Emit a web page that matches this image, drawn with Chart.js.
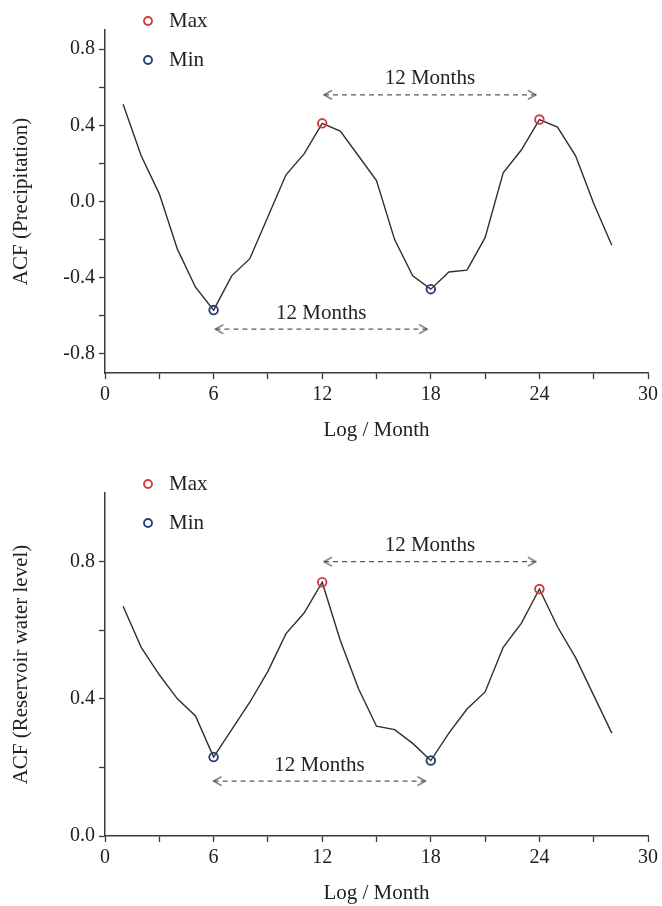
<!DOCTYPE html>
<html>
<head>
<meta charset="utf-8">
<title>ACF – precipitation and reservoir water level</title>
<script src="https://cdn.jsdelivr.net/npm/chart.js@4.4.1/dist/chart.umd.min.js"></script>
<style>
  body { margin: 0; background: #fff; }
  .panel { position: relative; width: 662px; }
</style>
</head>
<body>
<div class="panel" style="height:463px"><canvas id="acfPrecip"></canvas></div>
<div class="panel" style="height:443px"><canvas id="acfLevel"></canvas></div>
<script>
// lag in months
const lags = [1, 2, 3, 4, 5, 6, 7, 8, 9, 10, 11, 12, 13, 14,
  15, 16, 17, 18, 19, 20, 21, 22, 23, 24, 25, 26, 27, 28];
const acfPrecip = [0.51, 0.24, 0.04, -0.25, -0.45, -0.57, -0.39, -0.30, -0.08, 0.14, 0.25, 0.41, 0.37, 0.24,
  0.11, -0.20, -0.39, -0.46, -0.37, -0.36, -0.19, 0.15, 0.27, 0.43, 0.39, 0.24, -0.01, -0.23];
const acfLevel = [0.67, 0.55, 0.47, 0.40, 0.35, 0.23, 0.31, 0.39, 0.48, 0.59, 0.65, 0.74, 0.57, 0.43,
  0.32, 0.31, 0.27, 0.22, 0.30, 0.37, 0.42, 0.55, 0.62, 0.72, 0.61, 0.52, 0.41, 0.30];

const xTicks = [0, 3, 6, 9, 12, 15, 18, 21, 24, 27, 30];
const yTicksPrecip = [-0.8, -0.6, -0.4, -0.2, 0, 0.2, 0.4, 0.6, 0.8];
const yTicksLevel = [0, 0.2, 0.4, 0.6, 0.8];

const maxLagsPrecip = [12, 24];
const minLagsPrecip = [6, 18];
const maxLagsLevel = [12, 24];
const minLagsLevel = [6, 18];

// dashed period arrows: [from lag, to lag, acf height]
const spansPrecip = [[12.1, 23.8, 0.56], [6.1, 17.8, -0.67]];
const spansLevel = [[12.1, 23.8, 0.80], [6.0, 17.7, 0.16]];
const spanLabel = '12 Months';

const INK = '#222';
const AXIS = '#3a3a3a';
const RED = '#d43a3f';
const NAVY = '#27407a';
const SERIF = '"Liberation Serif", "Times New Roman", serif';

Chart.defaults.font.family = SERIF;
Chart.defaults.font.size = 20;
Chart.defaults.color = INK;

// open chevron used as arrow head, tip sits on the data point
function chevron(dir) {
  const c = document.createElement('canvas');
  c.width = 20; c.height = 12;
  const g = c.getContext('2d');
  g.strokeStyle = '#555';
  g.lineWidth = 1.3;
  g.beginPath();
  if (dir < 0) { g.moveTo(18, 1.5); g.lineTo(10, 6); g.lineTo(18, 10.5); }
  else { g.moveTo(2, 1.5); g.lineTo(10, 6); g.lineTo(2, 10.5); }
  g.stroke();
  return c;
}
const headL = chevron(-1), headR = chevron(1);

// "12 Months" text above every span arrow
const spanText = {
  id: 'spanText',
  afterDatasetsDraw(chart) {
    const ctx = chart.ctx;
    ctx.save();
    ctx.font = `21px ${SERIF}`;
    ctx.fillStyle = INK;
    ctx.textAlign = 'center';
    ctx.textBaseline = 'middle';
    chart.data.datasets.forEach((ds, i) => {
      if (!ds.isSpan) return;
      const pts = chart.getDatasetMeta(i).data;
      ctx.fillText(spanLabel, (pts[0].x + pts[1].x) / 2, pts[0].y - 16);
    });
    ctx.restore();
  },
};

// Max / Min key at the top-left corner
const markKey = {
  id: 'markKey',
  afterDraw(chart) {
    const { ctx, chartArea } = chart;
    ctx.save();
    ctx.font = `21px ${SERIF}`;
    ctx.textBaseline = 'middle';
    chart.data.datasets.filter(ds => ds.isMark).forEach((ds, i) => {
      const y = chartArea.top - 9 + i * 39;
      ctx.beginPath();
      ctx.arc(chartArea.left + 43, y, 4, 0, Math.PI * 2);
      ctx.strokeStyle = ds.borderColor;
      ctx.lineWidth = 1.9;
      ctx.stroke();
      ctx.fillStyle = INK;
      ctx.fillText(ds.label, chartArea.left + 64, y);
    });
    ctx.restore();
  },
};

function isMultiple(v, step) {
  return Math.abs(v / step - Math.round(v / step)) < 1e-6;
}

function render(id, opt) {
  const { acf, maxLags, minLags, spans, yTicks, yMin, yMax, yLabelStep, yTitle, xHeight, xTitlePad } = opt;
  const at = (l) => ({ x: l, y: acf[lags.indexOf(l)] });
  const markSet = (label, list, colour) => ({
    type: 'scatter', label, isMark: true, order: 0,
    data: list.map(at),
    borderColor: colour, backgroundColor: 'rgba(0,0,0,0)',
    pointStyle: 'circle', pointRadius: 4.3, borderWidth: 1.9,
  });
  const datasets = [
    markSet('Max', maxLags, RED),
    markSet('Min', minLags, NAVY),
    {
      type: 'line', label: 'ACF', order: 2,
      data: lags.map((l, i) => ({ x: l, y: acf[i] })),
      borderColor: '#2e2e2e', borderWidth: 1.4, pointRadius: 0, tension: 0,
    },
  ];
  for (const [from, to, h] of spans) {
    datasets.push({
      type: 'line', label: 'span', isSpan: true, order: 1,
      data: [{ x: from, y: h }, { x: to, y: h }],
      borderColor: '#5a5a5a', borderWidth: 1.2, borderDash: [5, 4],
      pointStyle: [headL, headR], pointRadius: 6,
    });
  }

  const gridOpts = { drawOnChartArea: false, tickLength: 6, tickColor: AXIS, tickWidth: 1.3 };
  new Chart(document.getElementById(id), {
    data: { datasets },
    plugins: [spanText, markKey],
    options: {
      responsive: true,
      maintainAspectRatio: false,
      animation: false,
      events: [],
      layout: { padding: { top: 30, right: 10, left: 0, bottom: 0 } },
      plugins: { legend: { display: false }, tooltip: { enabled: false } },
      scales: {
        x: {
          type: 'linear', min: 0, max: 30,
          afterBuildTicks: (s) => { s.ticks = xTicks.map(v => ({ value: v })); },
          afterFit: (s) => { s.height = xHeight; },
          ticks: { padding: 4, maxRotation: 0, callback: (v) => (isMultiple(v, 6) ? String(v) : '') },
          grid: gridOpts,
          border: { color: AXIS, width: 1.5 },
          title: { display: true, text: 'Log / Month', font: { size: 21 }, padding: { top: 0, bottom: xTitlePad } },
        },
        y: {
          type: 'linear', min: yMin, max: yMax,
          afterBuildTicks: (s) => { s.ticks = yTicks.map(v => ({ value: v })); },
          afterFit: (s) => { s.width = 105; },
          ticks: { padding: 4, callback: (v) => (isMultiple(v, yLabelStep) ? v.toFixed(1) : '') },
          grid: gridOpts,
          border: { color: AXIS, width: 1.5 },
          title: { display: true, text: yTitle, font: { size: 21 }, padding: { top: 9, bottom: 0 } },
        },
      },
    },
  });
}

render('acfPrecip', {
  acf: acfPrecip, maxLags: maxLagsPrecip, minLags: minLagsPrecip, spans: spansPrecip,
  yTicks: yTicksPrecip, yMin: -0.9, yMax: 0.9, yLabelStep: 0.4,
  yTitle: 'ACF (Precipitation)', xHeight: 90, xTitlePad: 20,
});
render('acfLevel', {
  acf: acfLevel, maxLags: maxLagsLevel, minLags: minLagsLevel, spans: spansLevel,
  yTicks: yTicksLevel, yMin: 0, yMax: 1.0, yLabelStep: 0.4,
  yTitle: 'ACF (Reservoir water level)', xHeight: 70, xTitlePad: 0,
});
</script>
</body>
</html>
